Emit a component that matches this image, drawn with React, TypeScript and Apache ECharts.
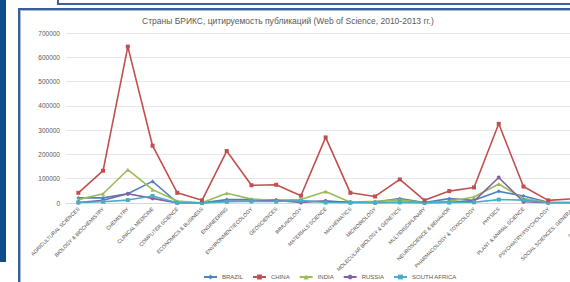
import React, { useEffect, useRef } from "react";
import * as echarts from "echarts";

const categories = [
  "AGRICULTURAL SCIENCES",
  "BIOLOGY & BIOCHEMISTRY",
  "CHEMISTRY",
  "CLINICAL MEDICINE",
  "COMPUTER SCIENCE",
  "ECONOMICS & BUSINESS",
  "ENGINEERING",
  "ENVIRONMENT/ECOLOGY",
  "GEOSCIENCES",
  "IMMUNOLOGY",
  "MATERIALS SCIENCE",
  "MATHEMATICS",
  "MICROBIOLOGY",
  "MOLECULAR BIOLOGY & GENETICS",
  "MULTIDISCIPLINARY",
  "NEUROSCIENCE & BEHAVIOR",
  "PHARMACOLOGY & TOXICOLOGY",
  "PHYSICS",
  "PLANT & ANIMAL SCIENCE",
  "PSYCHIATRY/PSYCHOLOGY",
  "SOCIAL SCIENCES, GENERAL",
  "SPACE SCIENCE",
];

const brazil = [21000, 21000, 38000, 89000, 2000, 1000, 14000, 14000, 11000, 8000, 7000, 2000, 4000, 18000, 2000, 18000, 11000, 48000, 29000, 3000, 2000, 3000];
const china = [42000, 133000, 644000, 236000, 42000, 11000, 214000, 73000, 75000, 30000, 270000, 42000, 27000, 97000, 11000, 49000, 64000, 326000, 68000, 11000, 17000, 20000];
const india = [14000, 38000, 137000, 55000, 8000, 1000, 40000, 16000, 11000, 14000, 47000, 3000, 7000, 13000, 1000, 7000, 25000, 78000, 18000, 2000, 2000, 4000];
const russia = [2000, 11000, 38000, 19000, 500, 300, 7000, 7000, 11000, 2000, 8000, 3000, 1000, 3000, 1000, 3000, 8000, 105000, 5000, 1000, 1000, 5000];
const southAfrica = [2000, 5000, 12000, 29000, 1000, 500, 5000, 7000, 6000, 10000, 2000, 1000, 1000, 3000, 1000, 2000, 3000, 14000, 12000, 2000, 1000, 1000];

const seriesNames = ["BRAZIL", "CHINA", "INDIA", "RUSSIA", "SOUTH AFRICA"];
const seriesColors = ["#4F81BD", "#C0504D", "#9BBB59", "#8064A2", "#4BACC6"];
const seriesSymbols = ["diamond", "rect", "triangle", "circle", "rect"];

const yMin = 0;
const yMax = 700000;
const yInterval = 100000;

const titleText = "Страны БРИКС, цитируемость публикаций (Web of Science, 2010-2013 гг.)";

const FONT = "'Liberation Sans', Arial, sans-serif";

export default function App() {
  const ref = useRef<HTMLDivElement>(null);

  useEffect(() => {
    if (!ref.current) return;
    const chart = echarts.init(ref.current, undefined, { renderer: "svg" });
    const data = [brazil, china, india, russia, southAfrica];
    chart.setOption({
      animation: false,
      backgroundColor: "transparent",
      textStyle: { fontFamily: FONT },
      title: {
        text: titleText,
        left: 142,
        top: 16,
        padding: 0,
        textStyle: { fontSize: 8.5, fontWeight: "normal", color: "#595959", fontFamily: FONT },
      },
      legend: {
        data: seriesNames,
        left: 203,
        top: 274,
        padding: 0,
        itemWidth: 13,
        itemHeight: 6,
        itemGap: 9,
        textStyle: { fontSize: 6, color: "#595959", fontFamily: FONT },
      },
      grid: { left: 66, top: 33, width: 544, height: 170, containLabel: false },
      xAxis: {
        type: "category",
        data: categories,
        boundaryGap: true,
        axisLine: { lineStyle: { color: "#d9d9d9" } },
        axisTick: { show: false },
        axisLabel: {
          interval: 0,
          rotate: 45,
          fontSize: 5.1,
          color: "#4d4d4d",
          margin: 5,
          fontFamily: FONT,
        },
      },
      yAxis: {
        type: "value",
        min: yMin,
        max: yMax,
        interval: yInterval,
        axisLine: { show: false },
        axisTick: { show: false },
        splitLine: { lineStyle: { color: "#e6e6e6", width: 1 } },
        axisLabel: {
          fontSize: 6.5,
          color: "#595959",
          margin: 6,
          fontFamily: FONT,
          formatter: (v: number) => String(v),
        },
      },
      series: seriesNames.map((name, i) => ({
        name,
        type: "line",
        data: data[i],
        color: seriesColors[i],
        symbol: seriesSymbols[i],
        symbolSize: 4,
        showSymbol: true,
        lineStyle: { width: 1.6, color: seriesColors[i] },
        itemStyle: { color: seriesColors[i] },
        z: i === 1 ? 3 : 2,
      })),
    });
    return () => chart.dispose();
  }, []);

  return (
    <div
      style={{
        position: "fixed",
        left: 0,
        top: 0,
        width: 570,
        height: 282,
        overflow: "hidden",
        background: "#ffffff",
      }}
    >
      <div style={{ position: "absolute", left: 0, top: 0, width: 6, height: 262, background: "#0d4c8b" }} />
      <div
        style={{
          position: "absolute",
          left: 57,
          top: -12,
          width: 530,
          height: 13,
          border: "2px solid #3a62a0",
          background: "#ffffff",
        }}
      />
      <div
        style={{
          position: "absolute",
          left: 18,
          top: 8,
          width: 600,
          height: 300,
          border: "2px solid #375f9e",
          boxShadow: "inset 0 0 0 1px #a9b9d6",
          background: "#ffffff",
        }}
      />
      <div ref={ref} style={{ position: "absolute", left: 0, top: 0, width: 660, height: 282 }} />
    </div>
  );
}
